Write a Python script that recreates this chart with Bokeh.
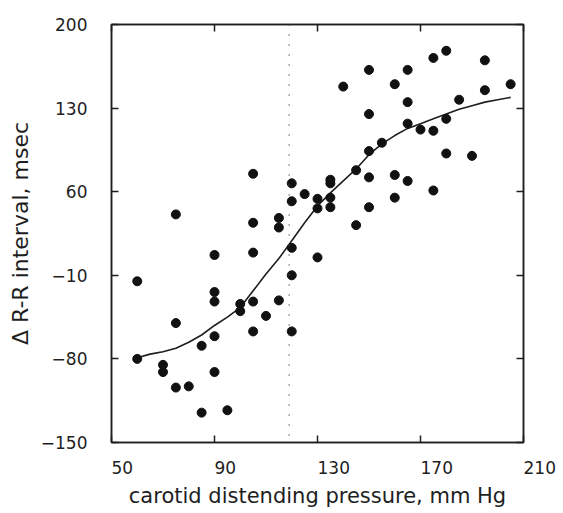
from bokeh.plotting import figure
from bokeh.models import LinearAxis, FixedTicker, Range1d, Span
from bokeh.embed import file_html
from bokeh.resources import INLINE

# data
pressure = [60, 60, 70, 70, 75, 75, 75, 80, 85, 85,
            90, 90, 90, 90, 90, 95, 100, 100, 105, 105,
            105, 105, 105, 110, 115, 115, 115, 120, 120, 120,
            120, 120, 125, 130, 130, 130, 135, 135, 135, 135,
            140, 145, 145, 150, 150, 150, 150, 150, 155, 160,
            160, 160, 165, 165, 165, 165, 170, 175, 175, 175,
            180, 180, 180, 185, 190, 195, 195, 205]
rr_change = [-15, -80, -85, -91, 41, -50, -104, -103, -69, -125,
             7, -24, -32, -61, -91, -123, -34, -40, 75, 34,
             9, -32, -57, -44, 38, 30, -31, 67, 52, 13,
             -10, -57, 58, 54, 46, 5, 70, 67, 55, 47,
             148, 78, 32, 162, 125, 94, 72, 47, 101, 150,
             74, 55, 162, 135, 117, 69, 112, 172, 111, 61,
             178, 121, 92, 137, 90, 170, 145, 150]

curve_pressure = [60, 65, 70, 75, 80, 85, 90, 95, 100, 105, 110, 115, 120,
                  125, 130, 135, 140, 145, 150, 155, 160, 165, 170, 175,
                  180, 185, 190, 195, 200, 205]
curve_rr = [-79, -76, -74, -71, -66, -60, -52, -45, -37, -23, -9, 4, 19,
            34, 48, 59, 69, 79, 91, 100, 107, 113, 117, 121,
            125, 129, 132, 135, 137, 139]

threshold_pressure = 119

x_ticks = [50, 90, 130, 170, 210]
x_tick_labels = ["50", "90", "130", "170", "210"]
y_ticks = [-150, -80, -10, 60, 130, 200]
y_tick_labels = ["\u2212150", "\u221280", "\u221210", "60", "130", "200"]

x_title = "carotid distending pressure, mm Hg"
y_title = "\u0394 R-R interval, msec"

FONT = "DejaVu Sans"
INK = "#1e1e1e"
PAD = "\u2007"  # figure space: puts each x label to the right of its tick

p = figure(width=563, height=513,
           x_range=Range1d(50, 210), y_range=Range1d(-150, 200),
           output_backend="svg", toolbar_location=None,
           x_axis_location=None, y_axis_location=None,
           min_border_left=111, min_border_right=40,
           min_border_top=24, min_border_bottom=71)
p.xgrid.grid_line_color = None
p.ygrid.grid_line_color = None
p.outline_line_color = INK
p.outline_line_width = 1.5
p.background_fill_color = "white"
p.border_fill_color = "white"


def style(ax):
    ax.axis_line_color = INK
    ax.axis_line_width = 1.5
    ax.major_tick_line_color = INK
    ax.major_tick_line_width = 1.5
    ax.major_tick_in = 7
    ax.major_tick_out = 0
    ax.minor_tick_line_color = None
    ax.major_label_text_font = FONT
    ax.major_label_text_font_size = "17px"
    ax.major_label_text_color = INK
    ax.axis_label_text_font = FONT
    ax.axis_label_text_font_size = "22px"
    ax.axis_label_text_font_style = "normal"
    ax.axis_label_text_color = INK


xb = LinearAxis(ticker=FixedTicker(ticks=x_ticks), axis_label=x_title,
                major_label_overrides={t: PAD * len(s) + s
                                       for t, s in zip(x_ticks, x_tick_labels)})
style(xb)
xb.axis_label_text_font_size = "21px"
xb.major_label_standoff = 15
xb.axis_label_standoff = 3
p.add_layout(xb, "below")

yl = LinearAxis(ticker=FixedTicker(ticks=y_ticks), axis_label=y_title,
                major_label_overrides={t: s for t, s in zip(y_ticks, y_tick_labels)})
style(yl)
yl.major_label_standoff = 24
yl.axis_label_standoff = 5
p.add_layout(yl, "left")

xt = LinearAxis(ticker=FixedTicker(ticks=x_ticks),
                major_label_overrides={t: "" for t in x_ticks})
style(xt)
xt.major_label_standoff = 0
p.add_layout(xt, "above")

yr = LinearAxis(ticker=FixedTicker(ticks=y_ticks),
                major_label_overrides={t: "" for t in y_ticks})
style(yr)
yr.major_label_standoff = 0
p.add_layout(yr, "right")

p.add_layout(Span(location=threshold_pressure, dimension="height",
                  line_color="#555555", line_width=1.5, line_dash="1 9"))

p.line(curve_pressure, curve_rr, line_color=INK, line_width=1.6)
p.scatter(pressure, rr_change, size=9, fill_color="#111111", line_color="#111111")

open("out.html", "w").write(file_html(p, INLINE))
